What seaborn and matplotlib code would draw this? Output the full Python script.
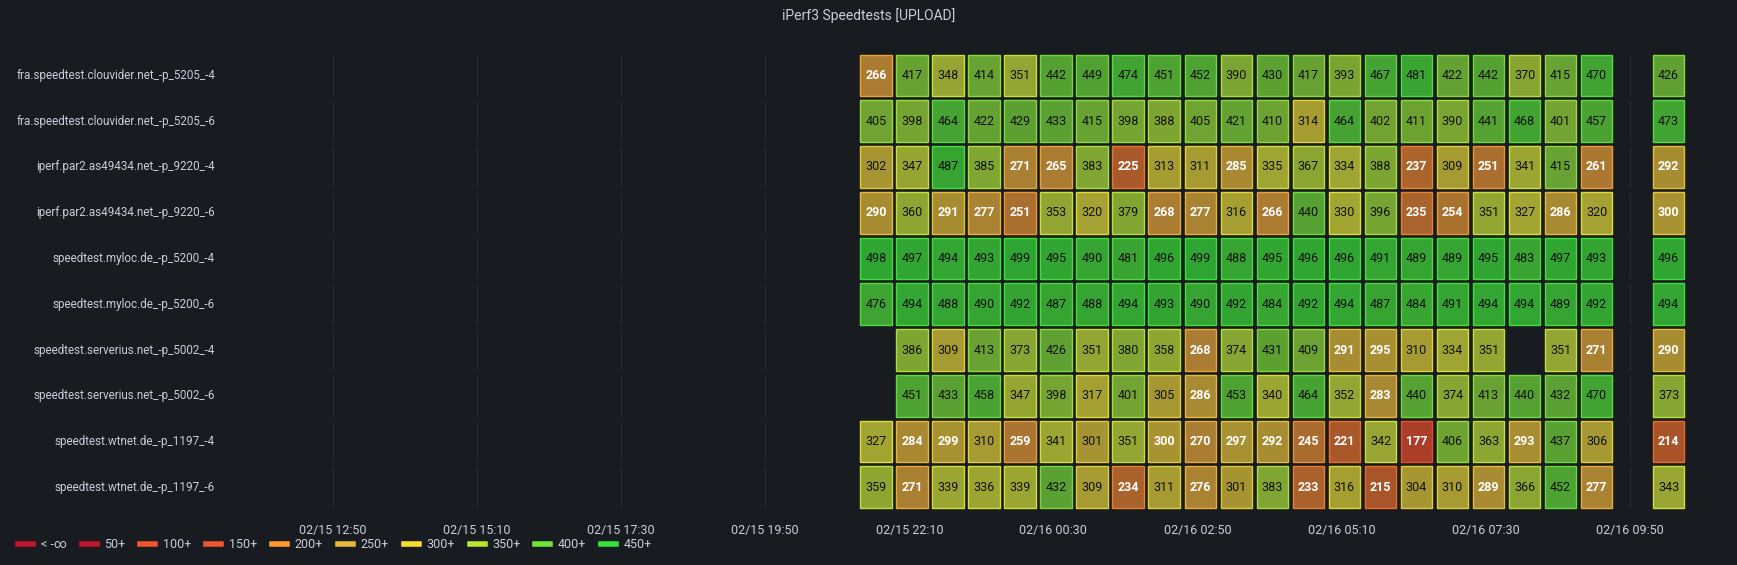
import numpy as np
import pandas as pd
import seaborn as sns
import matplotlib.pyplot as plt
from matplotlib.colors import LinearSegmentedColormap, to_rgb
from matplotlib.patches import Rectangle
from matplotlib.lines import Line2D

hosts = [
    "fra.speedtest.clouvider.net_-p_5205_-4",
    "fra.speedtest.clouvider.net_-p_5205_-6",
    "iperf.par2.as49434.net_-p_9220_-4",
    "iperf.par2.as49434.net_-p_9220_-6",
    "speedtest.myloc.de_-p_5200_-4",
    "speedtest.myloc.de_-p_5200_-6",
    "speedtest.serverius.net_-p_5002_-4",
    "speedtest.serverius.net_-p_5002_-6",
    "speedtest.wtnet.de_-p_1197_-4",
    "speedtest.wtnet.de_-p_1197_-6",
]
N = None
r0 = [266, 417, 348, 414, 351, 442, 449, 474, 451, 452, 390, 430, 417, 393, 467, 481, 422, 442, 370, 415, 470, N, 426]
r1 = [405, 398, 464, 422, 429, 433, 415, 398, 388, 405, 421, 410, 314, 464, 402, 411, 390, 441, 468, 401, 457, N, 473]
r2 = [302, 347, 487, 385, 271, 265, 383, 225, 313, 311, 285, 335, 367, 334, 388, 237, 309, 251, 341, 415, 261, N, 292]
r3 = [290, 360, 291, 277, 251, 353, 320, 379, 268, 277, 316, 266, 440, 330, 396, 235, 254, 351, 327, 286, 320, N, 300]
r4 = [498, 497, 494, 493, 499, 495, 490, 481, 496, 499, 488, 495, 496, 496, 491, 489, 489, 495, 483, 497, 493, N, 496]
r5 = [476, 494, 488, 490, 492, 487, 488, 494, 493, 490, 492, 484, 492, 494, 487, 484, 491, 494, 494, 489, 492, N, 494]
r6 = [N, 386, 309, 413, 373, 426, 351, 380, 358, 268, 374, 431, 409, 291, 295, 310, 334, 351, N, 351, 271, N, 290]
r7 = [N, 451, 433, 458, 347, 398, 317, 401, 305, 286, 453, 340, 464, 352, 283, 440, 374, 413, 440, 432, 470, N, 373]
r8 = [327, 284, 299, 310, 259, 341, 301, 351, 300, 270, 297, 292, 245, 221, 342, 177, 406, 363, 293, 437, 306, N, 214]
r9 = [359, 271, 339, 336, 339, 432, 309, 234, 311, 276, 301, 383, 233, 316, 215, 304, 310, 289, 366, 452, 277, N, 343]
rows = [r0, r1, r2, r3, r4, r5, r6, r7, r8, r9]

tick_labels = ["02/15 12:50", "02/15 15:10", "02/15 17:30", "02/15 19:50", "02/15 22:10",
               "02/16 00:30", "02/16 02:50", "02/16 05:10", "02/16 07:30", "02/16 09:50"]
legend_labels = ["< -∞", "50+", "100+", "150+", "200+", "250+", "300+", "350+", "400+", "450+"]
legend_colors = ["#c4162a", "#c4162a", "#f2542d", "#f2542d", "#ff9830", "#eab839",
                 "#fade2a", "#b8e62e", "#73e23a", "#37e33a"]

BG = "#181b1f"
TXT = "#ccccdc"
LEAD = 18  # empty slots before first sample

data = np.full((len(rows), LEAD + len(r0)), np.nan)
for i, r in enumerate(rows):
    data[i, LEAD:] = [np.nan if v is None else v for v in r]
df = pd.DataFrame(data, index=hosts)

bright = LinearSegmentedColormap.from_list("rg", [
    (0.0, "#e8382e"), (0.2, "#e8712e"), (0.34, "#e8a83a"),
    (0.5, "#e0e03a"), (0.68, "#a8e03a"), (0.8, "#7ad93a"), (1.0, "#38e03a")])
vmin, vmax = 150, 500
bg = np.array(to_rgb(BG))
fill_cols = [0.7 * np.array(bright(x)[:3]) + 0.3 * bg for x in np.linspace(0, 1, 256)]
fill = LinearSegmentedColormap.from_list("fill", fill_cols)

plt.rcParams["font.family"] = ["Roboto", "DejaVu Sans"]
fig = plt.figure(figsize=(17.37, 5.65), dpi=100, facecolor=BG)
ax = fig.add_axes([0.127, 0.097, 0.844, 0.81])
ax.set_facecolor(BG)
xt = [3.42 + 4 * k for k in range(len(tick_labels))]
for x in xt:
    ax.axvline(x, color="#2a2d33", lw=0.8, zorder=0)

sns.heatmap(df, ax=ax, cmap=fill, vmin=vmin, vmax=vmax, cbar=False,
            linewidths=3.5, linecolor=BG, zorder=2)

for i in range(data.shape[0]):
    for j in range(data.shape[1]):
        v = data[i, j]
        if np.isnan(v):
            continue
        c = bright((v - vmin) / (vmax - vmin))
        ax.add_patch(Rectangle((j + 0.06, i + 0.045), 0.88, 0.91, fill=False,
                               edgecolor=c, lw=1, zorder=3))
        low = v <= 300
        ax.text(j + 0.5, i + 0.5, f"{int(v)}", ha="center", va="center",
                fontsize=9, color="white" if low else "#111111",
                fontweight="bold" if low else "normal", zorder=4)

ax.set_xlim(0.3, data.shape[1])
ax.set_xticks(xt)
ax.set_xticklabels(tick_labels, rotation=0, color=TXT, fontsize=9)
ax.set_yticklabels(hosts, rotation=0, color=TXT, fontsize=8.4)
ax.tick_params(axis="y", length=0, pad=4)
ax.tick_params(axis="x", length=0, pad=10)
for s in ax.spines.values():
    s.set_visible(False)
ax.set_xlabel("")

fig.text(0.5, 0.972, "iPerf3 Speedtests [UPLOAD]", ha="center", va="center",
         color=TXT, fontsize=10)

handles = [Line2D([0], [0], color=c, lw=4) for c in legend_colors]
fig.legend(handles, legend_labels, loc="lower left", bbox_to_anchor=(0.004, 0.005),
           ncol=10, frameon=False, fontsize=9, labelcolor=TXT, handlelength=1.2,
           handletextpad=0.6, columnspacing=1.2)

fig.savefig("out.png", dpi=100, facecolor=BG)
